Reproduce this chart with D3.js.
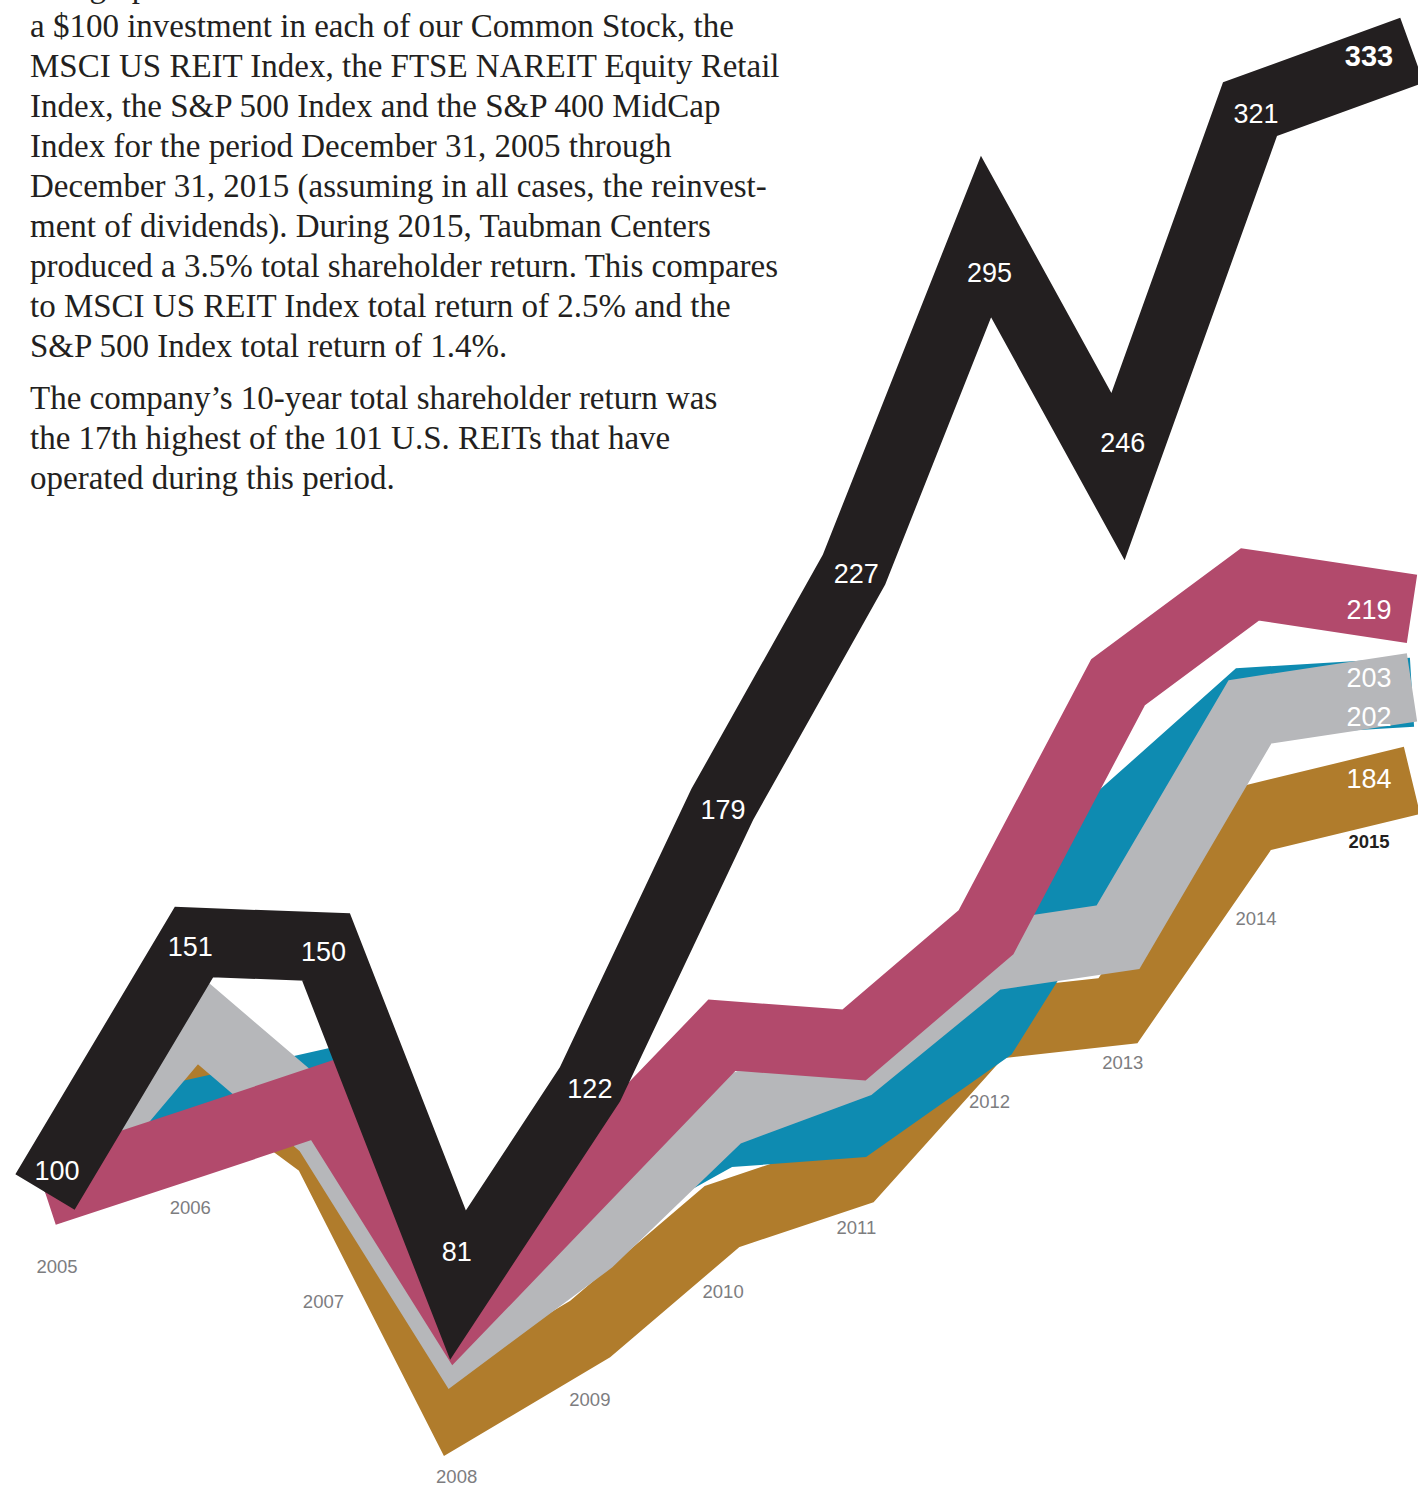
<!DOCTYPE html>
<html>
<head>
<meta charset="utf-8">
<script src="https://cdn.jsdelivr.net/npm/d3@7"></script>
<style>
  html, body { margin: 0; padding: 0; background: #ffffff; }
  svg { display: block; }
</style>
</head>
<body>
<svg id="chart" width="1418" height="1490"></svg>
<script>
// Cumulative value of $100 invested on December 31, 2005 (dividends reinvested)
const years = [2005, 2006, 2007, 2008, 2009, 2010, 2011, 2012, 2013, 2014, 2015];
const taubmanCommon = [100, 151, 150, 81, 122, 179, 227, 295, 246, 321, 333];
const spMidCap400   = [100, 110, 119, 76, 104, 132, 130, 153, 204, 224, 219];
const msciUsReit    = [100, 136, 113, 70, 90, 116, 126, 148, 152, 198, 203];
const sp500         = [100, 116, 122, 77, 97, 112, 114, 133, 176, 200, 202];
const nareitRetail  = [100, 129, 109, 56, 72, 95, 104, 134, 137, 176, 184];

const seriesNames = ["FTSE NAREIT Equity Retail Index", "S&P 500 Index", "MSCI US REIT Index",
                     "S&P 400 MidCap Index", "Taubman Centers Common Stock"];

const introLines = [
  "The graph below shows the cumulative total return on",
  "a $100 investment in each of our Common Stock, the",
  "MSCI US REIT Index, the FTSE NAREIT Equity Retail",
  "Index, the S&P 500 Index and the S&P 400 MidCap",
  "Index for the period December 31, 2005 through",
  "December 31, 2015 (assuming in all cases, the reinvest-",
  "ment of dividends). During 2015, Taubman Centers",
  "produced a 3.5% total shareholder return. This compares",
  "to MSCI US REIT Index total return of 2.5% and the",
  "S&P 500 Index total return of 1.4%."
];
const closingLines = [
  "The company\u2019s 10-year total shareholder return was",
  "the 17th highest of the 101 U.S. REITs that have",
  "operated during this period."
];

// ---- styling / layout -------------------------------------------------
const palette = {
  retail: "#b07c2c",
  sp500:  "#0e8bb1",
  reit:   "#b6b7ba",
  midcap: "#b24a6c",
  tco:    "#231f20"
};
const bandWidth = 69;

// draw order: bottom ribbon first, Taubman on top
const series = [
  { key: "retail", name: seriesNames[0], values: nareitRetail, color: palette.retail, endNudge: -2 },
  { key: "sp500",  name: seriesNames[1], values: sp500,        color: palette.sp500,  endNudge: 24 },
  { key: "reit",   name: seriesNames[2], values: msciUsReit,   color: palette.reit,   endNudge: -10 },
  { key: "midcap", name: seriesNames[3], values: spMidCap400,  color: palette.midcap, endNudge: 0 },
  { key: "tco",    name: seriesNames[4], values: taubmanCommon, color: palette.tco,   endNudge: 5, labelAll: true }
];

const svg = d3.select("#chart");

// horizontal placement: the last year sits against the right edge
const x = d3.scaleLinear().domain([2005, 2006, 2014, 2015]).range([45, 194, 1250, 1412]);
const xLabel = d3.scaleLinear().domain([2005, 2014, 2015]).range([57, 1256, 1369]);
const y = d3.scaleLinear().domain([0, 340]).range([1682, 16]);

const line = d3.line()
  .x((d, i) => x(years[i]))
  .y(d => y(d));

// ---- ribbons -----------------------------------------------------------
const ribbons = svg.append("g").attr("class", "ribbons");
ribbons.selectAll("path")
  .data(series)
  .join("path")
  .attr("d", s => line(s.values))
  .attr("fill", "none")
  .attr("stroke", s => s.color)
  .attr("stroke-width", bandWidth)
  .attr("stroke-linejoin", "miter")
  .attr("stroke-miterlimit", 10)
  .attr("stroke-linecap", "butt");

// ---- value labels ----------------------------------------------------
const sansFont = "'Helvetica Neue', Helvetica, 'Liberation Sans', Arial, sans-serif";
const valueLabels = [];
series.forEach(s => {
  s.values.forEach((v, i) => {
    const last = i === years.length - 1;
    if (!s.labelAll && !last) return;
    let nudge = 4;
    if (i === 0) nudge = -22;                                // pull the first label up the ribbon
    else if (!last) {
      const prev = s.values[i - 1], next = s.values[i + 1];
      if (prev - v > 20 && next - v > 20) nudge = -34;      // valley: sit inside the notch
      else if (v - prev > 20 && v - next > 20) nudge = 36;  // peak: sit below the tip
    }
    if (last) nudge = s.endNudge;
    valueLabels.push({ year: years[i], value: v, nudge, bold: last && s.key === "tco" });
  });
});

svg.append("g").attr("class", "value-labels")
  .selectAll("text")
  .data(valueLabels)
  .join("text")
  .attr("x", d => xLabel(d.year))
  .attr("y", d => y(d.value) + d.nudge)
  .attr("dy", "0.36em")
  .attr("text-anchor", "middle")
  .attr("fill", "#ffffff")
  .attr("font-family", sansFont)
  .attr("font-size", d => d.bold ? 29 : 27)
  .attr("font-weight", d => d.bold ? 700 : 400)
  .text(d => d3.format("d")(d.value));

// ---- year labels, set below the lowest ribbon of each year -----------
const yearLabelDrop = [74, 64, 153, 69, 70, 75, 55, 71, 52, 99, 61];
const lowest = years.map((yr, i) => d3.min(series, s => s.values[i]));

svg.append("g").attr("class", "year-labels")
  .selectAll("text")
  .data(years)
  .join("text")
  .attr("x", d => xLabel(d))
  .attr("y", (d, i) => y(lowest[i]) + yearLabelDrop[i])
  .attr("dy", "0.36em")
  .attr("text-anchor", "middle")
  .attr("font-family", sansFont)
  .attr("font-size", 18.5)
  .attr("font-weight", (d, i) => i === years.length - 1 ? 700 : 400)
  .attr("fill", (d, i) => i === years.length - 1 ? "#231f20" : "#7d7d7f")
  .text(d => d);

// ---- explanatory text ------------------------------------------------
const serifFont = "'Liberation Serif', 'DejaVu Serif', serif";
const textBlock = svg.append("g").attr("class", "copy")
  .attr("font-family", serifFont)
  .attr("font-size", 33)
  .attr("fill", "#231f20");

const leading = 40;
textBlock.selectAll("text.intro")
  .data(introLines)
  .join("text")
  .attr("class", "intro")
  .attr("x", 30)
  .attr("y", (d, i) => -3 + i * leading)
  .text(d => d);

textBlock.selectAll("text.closing")
  .data(closingLines)
  .join("text")
  .attr("class", "closing")
  .attr("x", 30)
  .attr("y", (d, i) => 409 + i * leading)
  .text(d => d);
</script>
</body>
</html>
